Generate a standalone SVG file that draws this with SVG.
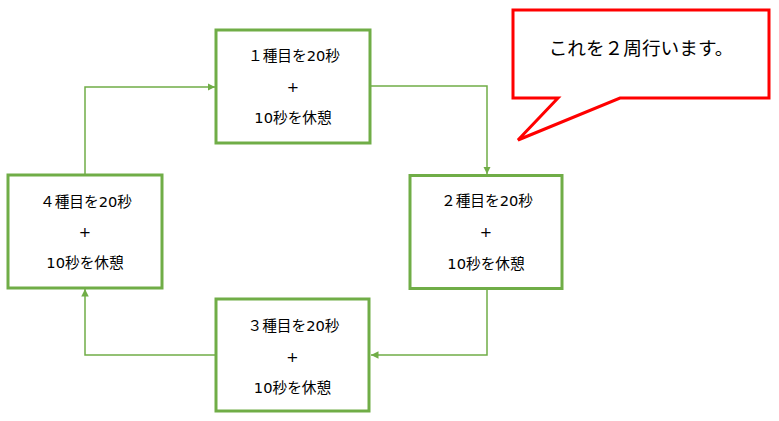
<svg xmlns="http://www.w3.org/2000/svg" width="779" height="421" viewBox="0 0 779 421">
<style>
.box{fill:#fff;stroke:#70AD47;stroke-width:3}
.con{fill:none;stroke:#70AD47;stroke-width:1.5}
text{font-family:"DejaVu Sans","Noto Sans CJK JP","Noto Sans CJK SC",sans-serif;font-size:14.67px;fill:#000;text-anchor:middle;dominant-baseline:central}
.big{font-size:18.67px}
</style>
<defs>
<marker id="ah" viewBox="0 0 10 10" refX="10" refY="5" markerWidth="5" markerHeight="5" orient="auto" markerUnits="strokeWidth">
<path d="M0,0 L10,5 L0,10 Z" fill="#70AD47"/>
</marker>
</defs>
<rect width="779" height="421" fill="#fff"/>
<g id="connectors">
<polyline class="con" points="370,86 487,86 487,174" marker-end="url(#ah)"/>
<polyline class="con" points="487,289 487,355 371,355" marker-end="url(#ah)"/>
<polyline class="con" points="216,355 85,355 85,289" marker-end="url(#ah)"/>
<polyline class="con" points="85,175 85,87 215,87" marker-end="url(#ah)"/>
</g>
<g id="node1">
<rect class="box" x="216" y="30" width="154" height="113"/>
<text x="294" y="55.5">１種目を20秒</text>
<text x="293" y="86.5">+</text>
<text x="293" y="117.5">10秒を休憩</text>
</g>
<g id="node2">
<rect class="box" x="410" y="175.5" width="152" height="113"/>
<text x="487" y="200">２種目を20秒</text>
<text x="486" y="231.5">+</text>
<text x="486" y="263">10秒を休憩</text>
</g>
<g id="node3">
<rect class="box" x="216" y="299" width="153" height="112"/>
<text x="293.5" y="325">３種目を20秒</text>
<text x="292.5" y="356">+</text>
<text x="292.5" y="387">10秒を休憩</text>
</g>
<g id="node4">
<rect class="box" x="8" y="175" width="154" height="113"/>
<text x="86" y="201">４種目を20秒</text>
<text x="85" y="231.5">+</text>
<text x="85" y="262.5">10秒を休憩</text>
</g>
<g id="callout">
<path d="M513,10 L769,10 L769,98 L620,98 L518,140 L558,98 L513,98 Z" fill="#fff" stroke="#FF0000" stroke-width="3" stroke-linejoin="miter"/>
<text class="big" x="641" y="48">これを２周行います。</text>
</g>
</svg>
